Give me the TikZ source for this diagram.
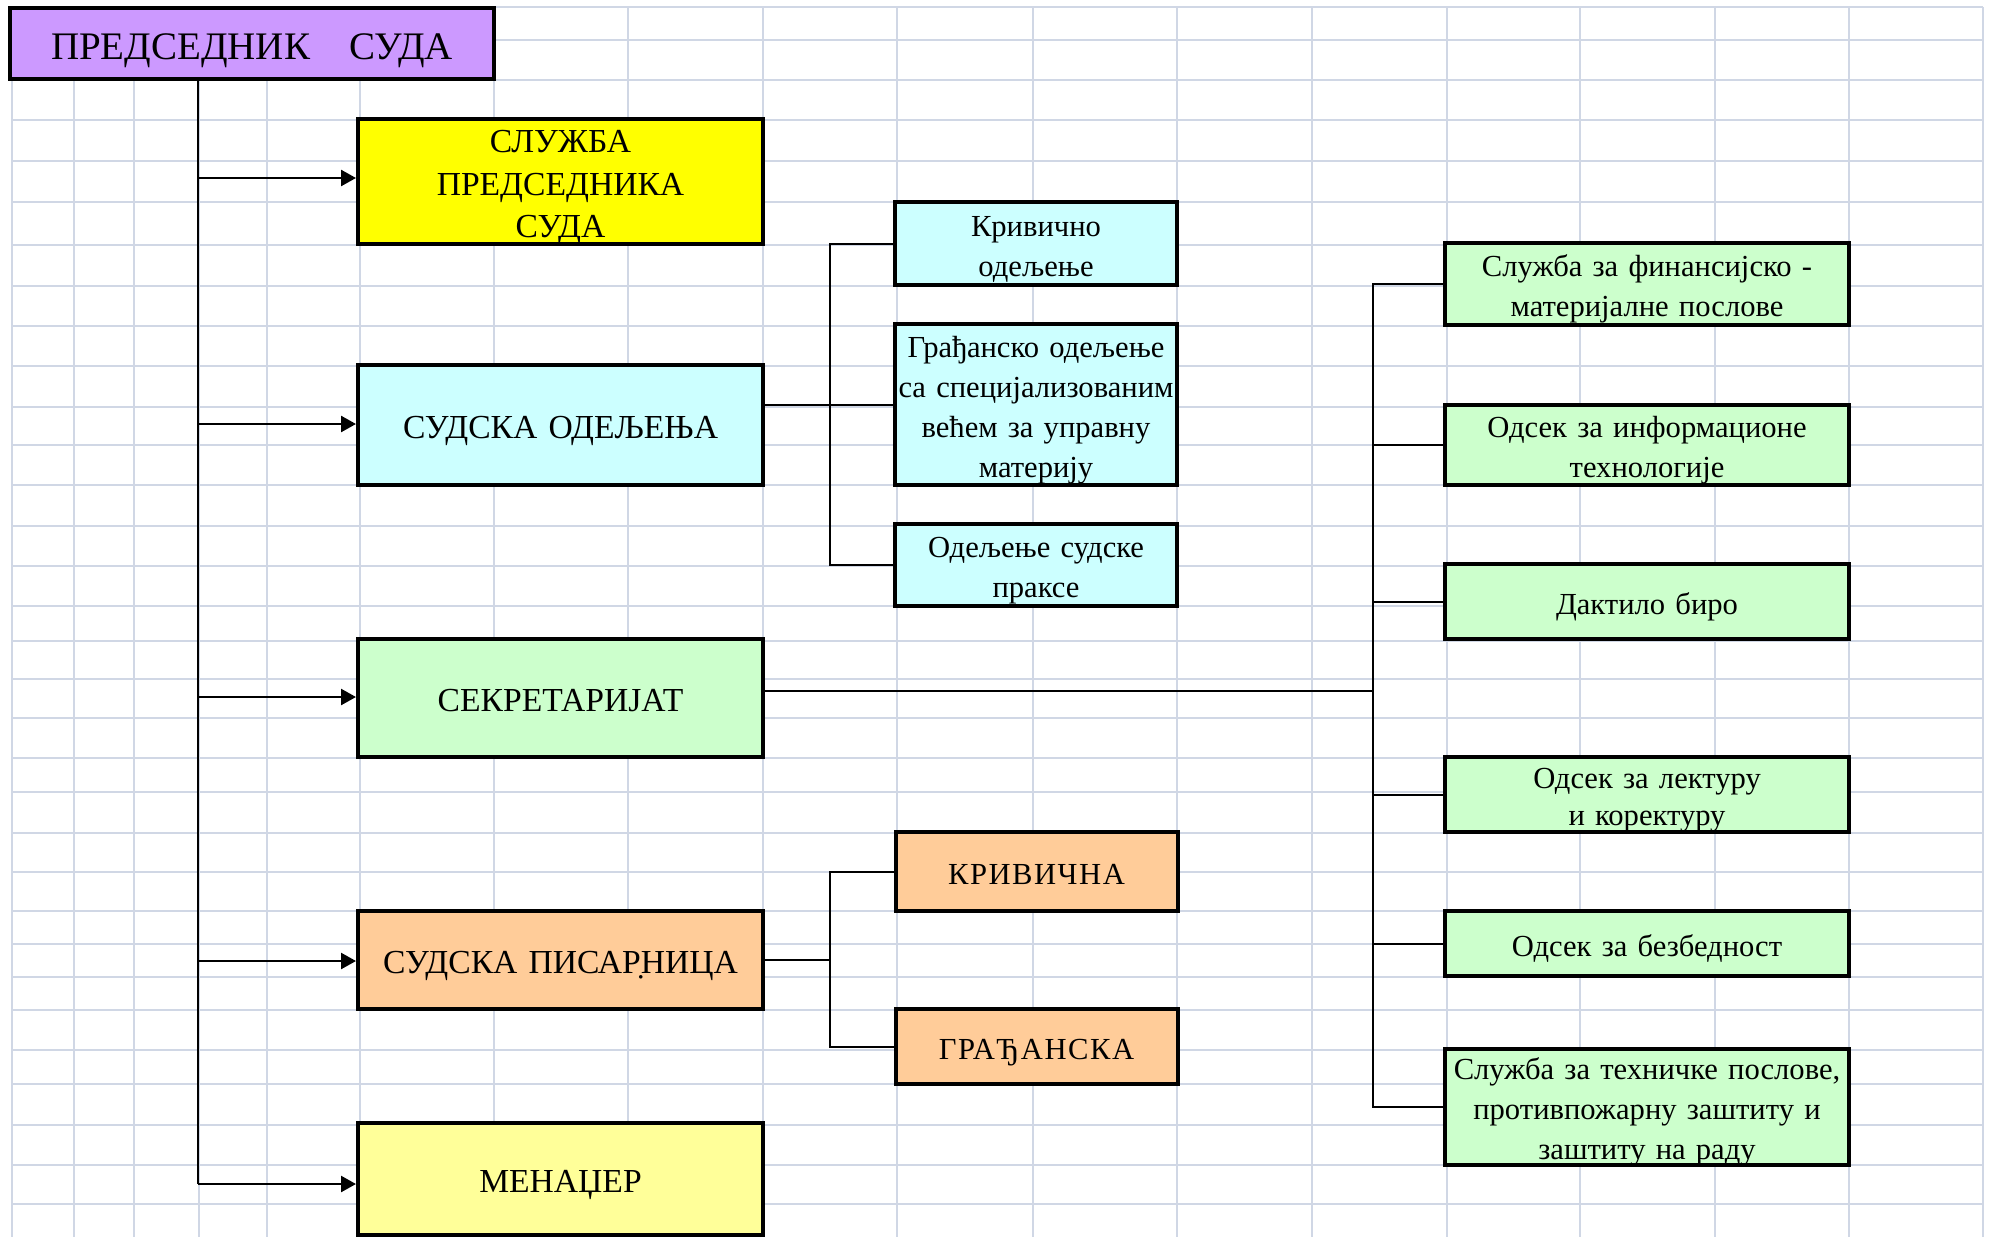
\documentclass[tikz,border=0pt]{standalone}
\usepackage{fontspec}
\setmainfont{Liberation Serif}
\usetikzlibrary{arrows.meta}

\definecolor{gridline}{HTML}{D0D7E5}
\definecolor{presfill}{HTML}{CC99FF}
\definecolor{offfill}{HTML}{FFFF00}
\definecolor{deptfill}{HTML}{CCFFFF}
\definecolor{secfill}{HTML}{CCFFCC}
\definecolor{regfill}{HTML}{FFCC99}
\definecolor{mgrfill}{HTML}{FFFF99}

\begin{document}
\begin{tikzpicture}[x=0.5pt,y=-0.5pt]
		\tikzstyle{head} = [rectangle, draw, line width=2pt, fill=presfill, minimum width=242pt, text width=242pt, minimum height=35.5pt, inner sep=0pt, inner ysep=-4pt, align=center, font=\fontsize{19.5}{24}\selectfont, execute at begin node={\rule{0pt}{20.5pt}}, execute at end node={\rule[-5pt]{0pt}{5pt}}]
		\tikzstyle{unit} = [rectangle, draw, line width=2pt, minimum width=202.5pt, text width=202.5pt, inner sep=0pt, inner ysep=-4pt, align=center, font=\fontsize{16.8}{21.25}\selectfont, execute at begin node={\rule{0pt}{18.2pt}}, execute at end node={\rule[-4.6pt]{0pt}{4.6pt}}]
		\tikzstyle{subunit} = [rectangle, draw, line width=2pt, minimum width=141pt, text width=141pt, inner sep=0pt, inner ysep=-4pt, align=center, font=\fontsize{15.3}{20}\selectfont, execute at begin node={\rule{0pt}{17pt}}, execute at end node={\rule[-4.2pt]{0pt}{4.2pt}}]
		\tikzstyle{office} = [rectangle, draw, line width=2pt, fill=secfill, minimum width=202pt, text width=202pt, inner sep=0pt, inner ysep=-4pt, align=center, font=\fontsize{15.3}{20}\selectfont, execute at begin node={\rule{0pt}{17pt}}, execute at end node={\rule[-4.2pt]{0pt}{4.2pt}}]
		\tikzstyle{arrow} = [draw, line width=1.25pt, -{Triangle[length=7.5pt,width=8pt]}]
		\tikzstyle{link} = [draw, line width=1pt]
		\useasboundingbox (0,0) rectangle (1990,1237);

		% sheet grid
		\foreach \gx in {12,74,134,199,267,360,494,628,763,897,1033,1177,1312,1447,1580,1715,1849,1983}
			\draw[gridline, line width=1.25pt] (\gx,7) -- (\gx,1237);
		\foreach \gy in {7,40,80,120,161,202,245,286,326,366,407,445,485,526,566,606,641,679,718,758,792,833,872,911,944,977,1010,1050,1084,1125,1165,1204}
			\draw[gridline, line width=1.25pt] (12,\gy) -- (1983,\gy);

		% main column
		\node [head] (pres) at (252,43.5) {ПРЕДСЕДНИК~~~СУДА};
		\node [unit, fill=offfill, minimum height=62.5pt] (office) at (560.5,181.5) {СЛУЖБА\\ПРЕДСЕДНИКА\\СУДА};
		\node [unit, fill=deptfill, minimum height=60pt] (depts) at (560.5,425) {СУДСКА ОДЕЉЕЊА};
		\node [unit, fill=secfill, minimum height=59pt] (secr) at (560.5,698) {СЕКРЕТАРИЈАТ};
		\node [unit, fill=regfill, minimum height=49pt] (reg) at (560.5,960) {СУДСКА ПИСАР̣НИЦА};
		\node [unit, fill=mgrfill, minimum height=56pt] (mgr) at (560.5,1179) {МЕНАЏЕР};

		% court departments
		\node [subunit, fill=deptfill, minimum height=41.5pt] (crim) at (1036,243.5) {Кривично\\одељење};
		\node [subunit, fill=deptfill, minimum height=80.5pt] (civil) at (1036,404.5) {Грађанско одељење\\са специјализованим\\већем за управну\\материју};
		\node [subunit, fill=deptfill, minimum height=41pt] (practice) at (1036,565) {Одељење судске\\праксе};

		% registry
		\node [subunit, fill=regfill, minimum height=39.5pt] (regcrim) at (1036.5,871.5) {\addfontfeature{LetterSpace=5}КРИВИЧНА};
		\node [subunit, fill=regfill, minimum height=37.5pt] (regcivil) at (1036.5,1046.5) {\addfontfeature{LetterSpace=5}ГРАЂАНСКА};

		% secretariat
		\node [office, minimum height=41pt] (fin) at (1647,284) {Служба за финансијско -\\материјалне послове};
		\node [office, minimum height=40pt] (it) at (1647,445) {Одсек за информационе\\технологије};
		\node [office, minimum height=37.5pt] (typing) at (1647,601.5) {Дактило биро};
		\node [office, minimum height=37.5pt, font=\fontsize{15.3}{18.5}\selectfont] (proof) at (1647,794.5) {Одсек за лектуру\\и коректуру};
		\node [office, minimum height=32.5pt] (safety) at (1647,943.5) {Одсек за безбедност};
		\node [office, minimum height=58pt] (tech) at (1647,1107) {Служба за техничке послове,\\противпожарну заштиту и\\заштиту на раду};

		% trunk
		\coordinate (trunk) at (198,79);
		\draw[line width=1.25pt] (trunk) -- (trunk |- 0,1184);
		\path[arrow] (trunk |- 0,178) -- (office.west |- 0,178);
		\path[arrow] (trunk |- 0,424) -- (depts.west |- 0,424);
		\path[arrow] (trunk |- 0,697) -- (secr.west |- 0,697);
		\path[arrow] (trunk |- 0,961) -- (reg.west |- 0,961);
		\path[arrow] (trunk |- 0,1184) -- (mgr.west |- 0,1184);

		% departments bracket
		\coordinate (dbar) at (830,0);
		\path[link] (depts.east |- civil.west) -- (civil.west);
		\path[link] (crim.west) -- (dbar |- crim.west) -- (dbar |- practice.west) -- (practice.west);

		% registry bracket
		\path[link] (reg.east) -- (dbar |- reg.east);
		\path[link] (regcrim.west) -- (dbar |- regcrim.west) -- (dbar |- regcivil.west) -- (regcivil.west);

		% secretariat bracket
		\coordinate (sbar) at (1373,0);
		\path[link] (secr.east |- 0,691) -- (sbar |- 0,691);
		\path[link] (fin.west) -- (sbar |- fin.west) -- (sbar |- tech.west) -- (tech.west);
		\path[link] (it.west) -- (sbar |- it.west);
		\path[link] (typing.west) -- (sbar |- typing.west);
		\path[link] (proof.west) -- (sbar |- proof.west);
		\path[link] (safety.west) -- (sbar |- safety.west);
	\end{tikzpicture}
\end{document}
